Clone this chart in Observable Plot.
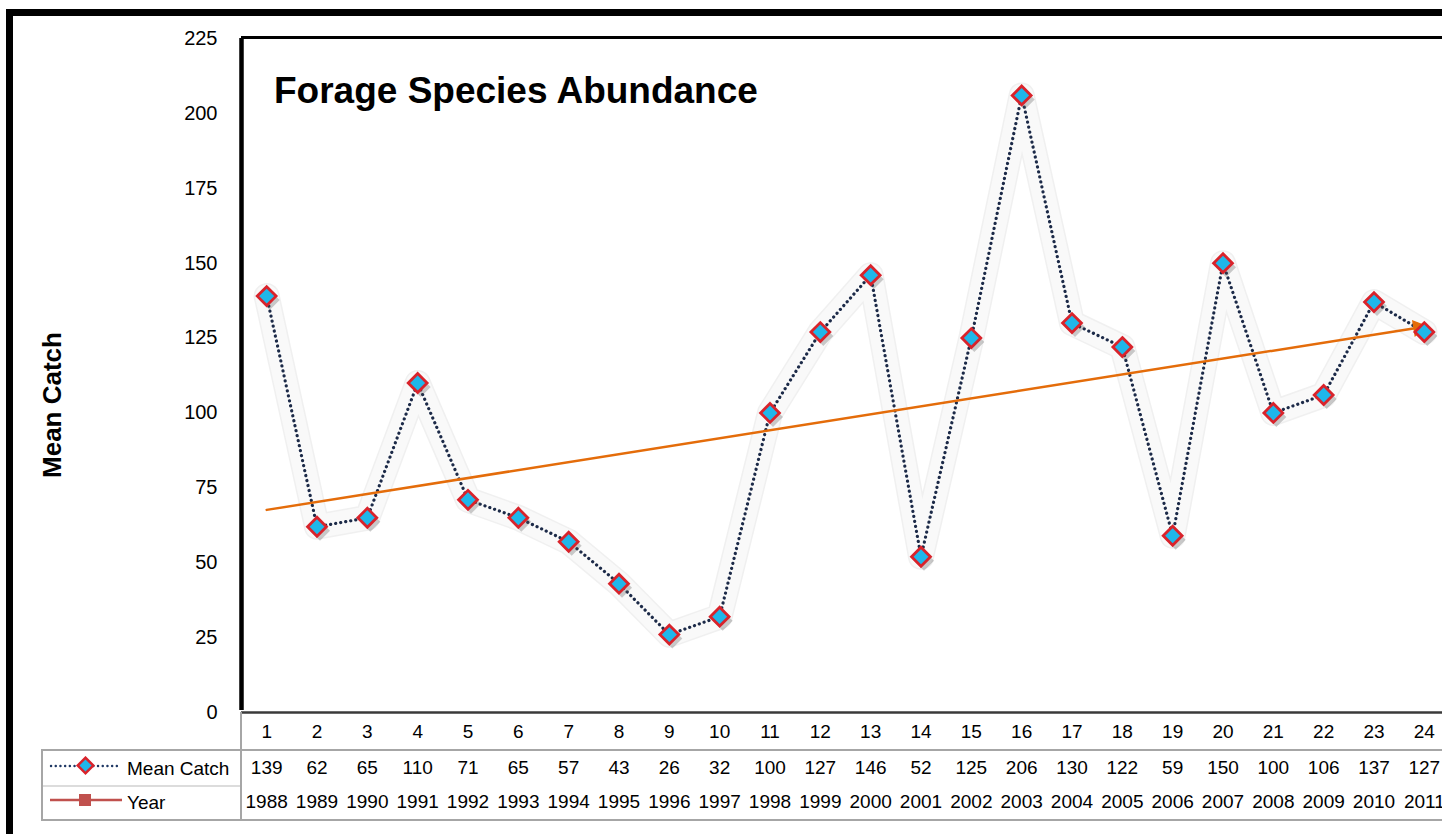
<!DOCTYPE html>
<html><head><meta charset="utf-8">
<script src="https://cdn.jsdelivr.net/npm/d3@7"></script>
<script src="https://cdn.jsdelivr.net/npm/@observablehq/plot@0.6"></script>
<style>
html,body{margin:0;padding:0;overflow:hidden;background:#fff;}
#wrap{position:relative;width:1442px;height:834px;overflow:hidden;font-family:"Liberation Sans",Arial,sans-serif;color:#000;}
#frame{position:absolute;left:6px;top:9px;width:1520px;height:900px;border:7px solid #000;box-sizing:border-box;}
#chart{position:absolute;left:0;top:0;}
.hl{position:absolute;height:0;border-top:2px solid #a6a6a6;}
.vl{position:absolute;width:0;border-left:2px solid #a6a6a6;}
.lg{position:absolute;font-size:19px;line-height:1;}
#ytitle{position:absolute;left:52px;top:405px;transform:translate(-50%,-50%) rotate(-90deg);font-weight:bold;font-size:26px;white-space:nowrap;}
#title{position:absolute;left:274px;top:72px;font-weight:bold;font-size:37px;white-space:nowrap;line-height:1;}
</style></head><body>
<div id="wrap">
  <div id="frame"></div>
  <div id="chart"></div>
  <div id="title"></div>
  <div id="ytitle"></div>
</div>
<script>
// ---- data ----
const sampleNo = [1,2,3,4,5,6,7,8,9,10,11,12,13,14,15,16,17,18,19,20,21,22,23,24];
const meanCatch = [139,62,65,110,71,65,57,43,26,32,100,127,146,52,125,206,130,122,59,150,100,106,137,127];
const years = [1988,1989,1990,1991,1992,1993,1994,1995,1996,1997,1998,1999,2000,2001,2002,2003,2004,2005,2006,2007,2008,2009,2010,2011];
const yTicks = [0,25,50,75,100,125,150,175,200,225];
const chartTitle = "Forage Species Abundance";
const yLabel = "Mean Catch";
const seriesNames = ["Mean Catch","Year"];

const rows = sampleNo.map((s,i)=>({s, v: meanCatch[i], yr: years[i]}));

// linear trend (least squares)
const mx = d3.mean(sampleNo), my = d3.mean(meanCatch);
const slope = d3.sum(sampleNo.map((x,i)=>(x-mx)*(meanCatch[i]-my))) / d3.sum(sampleNo.map(x=>(x-mx)**2));
const f = x => my + slope*(x-mx);
const x0 = sampleNo[0], x1 = sampleNo[sampleNo.length-1];
const trend = [{x:x0,y:f(x0)},{x:x1,y:f(x1)}];

const W = 1442, H = 834;
const xRange = [241, 1449], yRange = [712, 38];
const pxX = (xRange[1]-xRange[0])/24, pxY = (yRange[0]-yRange[1])/225;
const ang = Math.atan2(pxX, slope*pxY) * 180/Math.PI;
const tip = x1 - 0.12;
const arrowHead = [{x: tip, y: f(tip)}];

const font = '"Liberation Sans", Arial, sans-serif';

const plot = Plot.plot({
  width: W, height: H,
  marginTop: 38, marginBottom: H - 712, marginLeft: 241, marginRight: W - 1449,
  style: {background: "transparent", fontFamily: font, fontSize: "20px", color: "#000", overflow: "visible"},
  x: {domain: [0.5, 24.5], range: xRange, axis: null},
  y: {domain: [0, 225], range: yRange, ticks: yTicks, tickSize: 0, tickPadding: 24, label: null, tickFormat: d => String(d)},
  marks: [
    // halo behind the series
    Plot.line(rows, {x: "s", y: "v", stroke: "#e2e2e2", strokeWidth: 26, strokeLinejoin: "round", strokeLinecap: "round", strokeOpacity: 0.5}),
    Plot.line(rows, {x: "s", y: "v", stroke: "#f9f9f9", strokeWidth: 23, strokeLinejoin: "round", strokeLinecap: "round"}),
    // dotted series line
    Plot.line(rows, {x: "s", y: "v", stroke: "#1c2a48", strokeWidth: 3.2, strokeDasharray: "0.1,5", strokeLinecap: "round"}),
    // trend line
    Plot.line(trend, {x: "x", y: "y", stroke: "#e46c0a", strokeWidth: 2.5}),
    Plot.dot(arrowHead, {x: "x", y: "y", symbol: "triangle", r: 5.5, fill: "#e46c0a", stroke: "#e46c0a", rotate: ang}),
    // marker shadows
    Plot.dot(rows, {x: "s", y: "v", symbol: "diamond2", r: 9, fill: "#555", fillOpacity: 0.3, dx: 3, dy: 4}),
    // markers
    Plot.dot(rows, {x: "s", y: "v", symbol: "diamond2", r: 8.5, fill: "#1fb7ea", stroke: "#d9232b", strokeWidth: 2.8}),
    // plot area borders
    Plot.ruleX([0.5], {y1: 0, y2: 225, stroke: "#000", strokeWidth: 4.5, insetTop: -2}),
    Plot.ruleY([225], {x1: 0.5, x2: 24.5, stroke: "#000", strokeWidth: 3, dy: -1}),
    Plot.ruleY([0], {x1: 0.5, x2: 24.5, stroke: "#3a3a3a", strokeWidth: 2.5}),
    // data table
    Plot.text(rows, {x: "s", text: d => String(d.s), frameAnchor: "bottom", dy: 25, fontSize: 19}),
    Plot.text(rows, {x: "s", text: d => String(d.v), frameAnchor: "bottom", dy: 61, fontSize: 19}),
    Plot.text(rows, {x: "s", text: d => String(d.yr), frameAnchor: "bottom", dy: 95, fontSize: 19})
  ]
});
document.getElementById("chart").appendChild(plot);
document.getElementById("title").textContent = chartTitle;
document.getElementById("ytitle").textContent = yLabel;

// table grid and legend column
const wrap = document.getElementById("wrap");
function add(cls, css, html){ const d=document.createElement("div"); d.className=cls; Object.assign(d.style, css); if(html) d.innerHTML=html; wrap.appendChild(d); return d; }
add("hl", {left:"41px", top:"749px", width:"1420px"});
add("hl", {left:"41px", top:"785px", width:"200px", borderTopColor:"#dcdcdc"});
add("hl", {left:"41px", top:"819px", width:"1420px"});
add("vl", {left:"41px", top:"749px", height:"72px"});
add("vl", {left:"240px", top:"712px", height:"109px"});
add("lg", {left:"127px", top:"759px"}, seriesNames[0]);
add("lg", {left:"127px", top:"793px"}, seriesNames[1]);
add("", {position:"absolute", left:"48px", top:"756px"},
  '<svg width="72" height="20"><line x1="3" y1="10" x2="70" y2="10" stroke="#1f3864" stroke-width="2.4" stroke-dasharray="0.1,4.6" stroke-linecap="round"/>' +
  '<rect x="32" y="4" width="11" height="11" transform="rotate(45 37.5 9.5)" fill="#1fb7ea" stroke="#d9232b" stroke-width="2.5"/></svg>');
add("", {position:"absolute", left:"48px", top:"790px"},
  '<svg width="76" height="20"><line x1="2" y1="10" x2="74" y2="10" stroke="#c0504d" stroke-width="2.5"/>' +
  '<rect x="31" y="4" width="12" height="12" fill="#c0504d"/></svg>');
</script>
</body></html>
